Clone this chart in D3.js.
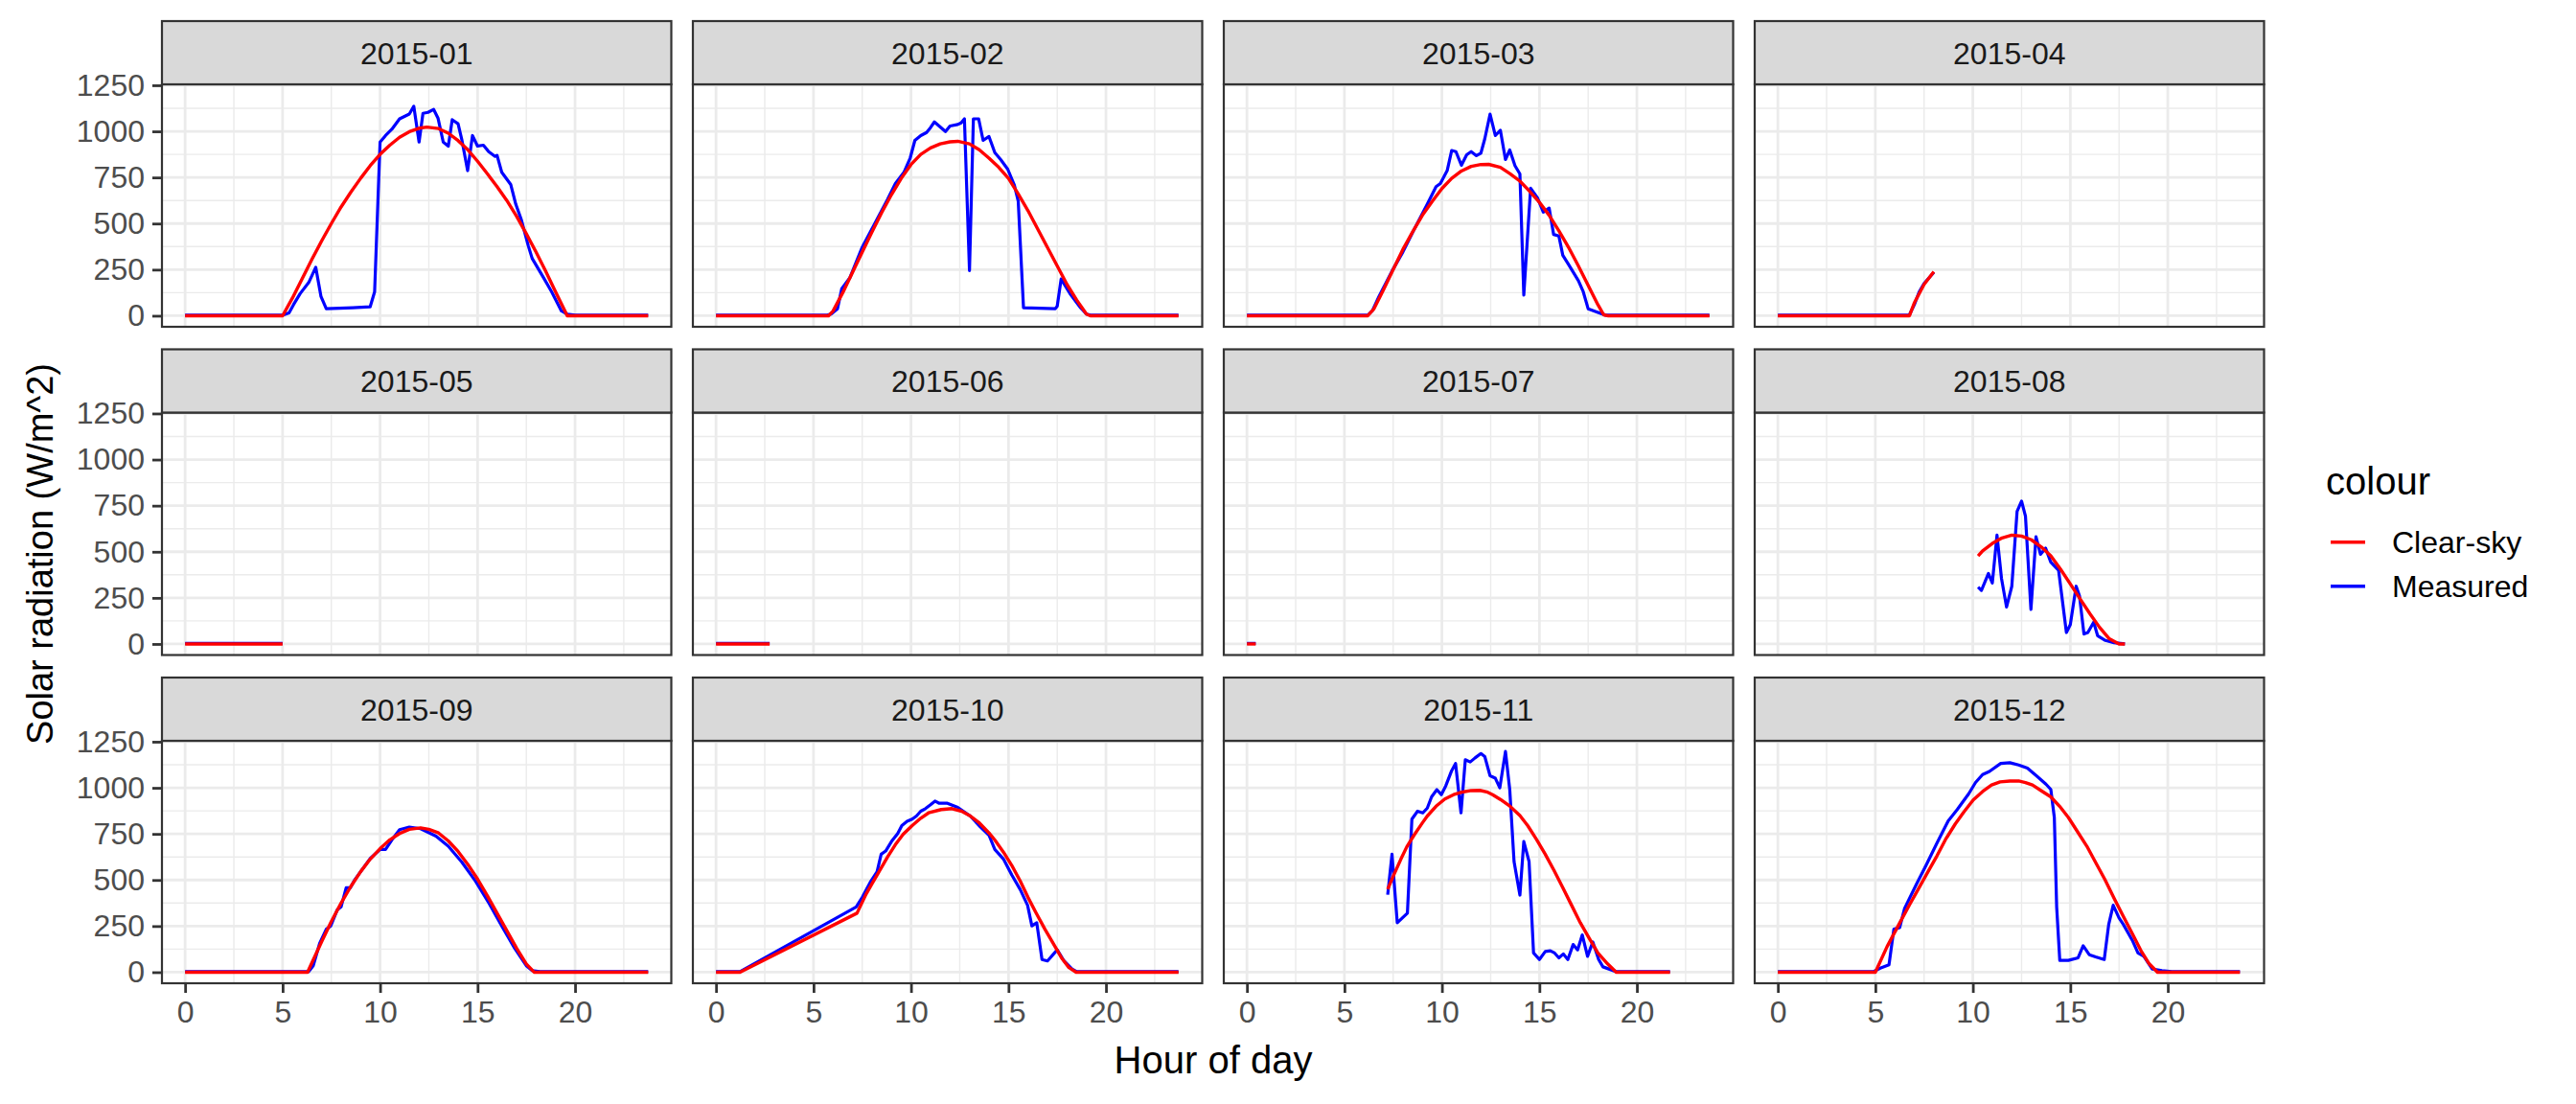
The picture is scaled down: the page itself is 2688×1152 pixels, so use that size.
<!DOCTYPE html>
<html>
<head>
<meta charset="utf-8">
<script src="https://cdn.jsdelivr.net/npm/d3@7"></script>
<style>
  body { margin: 0; background: #fff; }
  svg { display: block; font-family: "Liberation Sans", Arial, sans-serif; }
</style>
</head>
<body>
<svg id="chart" width="2688" height="1152"></svg>
<script>
// facet labels and axis breaks
const months = ["2015-01", "2015-02", "2015-03", "2015-04", "2015-05", "2015-06",
                "2015-07", "2015-08", "2015-09", "2015-10", "2015-11", "2015-12"];
const yBreaks = [0, 250, 500, 750, 1000, 1250];
const yMinor = [125, 375, 625, 875, 1125];
const xBreaks = [0, 5, 10, 15, 20];
const xMinor = [2.5, 7.5, 12.5, 17.5, 22.5];
const seriesNames = ["Clear-sky", "Measured"];

// [hour, W/m^2]
const jan_measured = [[0,3],[5.0,3],[5.33,15],[5.56,60],[5.9,120],[6.34,180],[6.7,263],[6.97,104],[7.24,38],[8.6,43],[9.49,48],[9.72,130],[10.0,942],[10.28,977],[10.6,1011],[11.0,1068],[11.5,1094],[11.73,1136],[12.0,942],[12.2,1098],[12.46,1103],[12.75,1119],[12.97,1072],[13.24,942],[13.5,920],[13.7,1063],[14.0,1041],[14.2,951],[14.49,787],[14.74,977],[15.0,920],[15.3,925],[15.57,890],[15.9,864],[16.0,870],[16.24,778],[16.7,712],[16.96,605],[17.25,519],[17.6,380],[17.8,311],[18.38,207],[18.8,130],[19.3,26],[19.6,9],[20,3],[23.75,3]];
const jan_clearsky = [[0,0],[5.0,0],[5.5,95],[6.0,200],[6.5,305],[7.0,405],[7.5,500],[8.0,590],[8.5,670],[9.0,745],[9.5,815],[10.0,875],[10.5,925],[11.0,968],[11.5,998],[12.0,1017],[12.4,1023],[13.0,1015],[13.5,990],[14.0,950],[14.5,900],[15.0,838],[15.5,770],[16.0,700],[16.5,625],[17.0,540],[17.5,445],[18.0,345],[18.5,240],[19.0,130],[19.6,0],[23.75,0]];

const feb_measured = [[0,3],[5.7,3],[5.9,9],[6.23,38],[6.45,147],[6.87,207],[7.5,372],[8.15,501],[8.8,631],[9.2,717],[9.64,778],[9.96,856],[10.2,951],[10.5,977],[10.8,994],[11.0,1020],[11.2,1051],[11.77,999],[12.0,1029],[12.4,1037],[12.57,1046],[12.74,1068],[13.0,245],[13.2,1068],[13.47,1068],[13.7,951],[14.0,972],[14.3,885],[14.6,847],[14.96,795],[15.3,709],[15.5,622],[15.77,43],[17.4,38],[17.5,52],[17.7,199],[18.15,121],[18.7,43],[19.0,9],[19.2,3],[23.72,3]];
const feb_clearsky = [[0,0],[5.77,0],[6.0,25],[6.5,125],[7.0,235],[7.5,345],[8.0,455],[8.5,560],[9.0,657],[9.5,745],[10.0,820],[10.5,875],[11.0,910],[11.5,932],[12.0,943],[12.4,946],[13.0,932],[13.5,900],[14.0,855],[14.5,805],[15.0,745],[15.5,660],[16.0,570],[16.5,470],[17.0,370],[17.5,270],[18.0,170],[18.5,85],[19.0,9],[19.2,0],[23.72,0]];

const mar_measured = [[0,3],[6.2,3],[6.43,26],[6.77,104],[7.44,242],[8.0,346],[8.57,467],[9.25,605],[9.7,700],[9.92,717],[10.27,787],[10.5,896],[10.72,890],[11.0,816],[11.27,873],[11.5,890],[11.77,868],[12.0,882],[12.2,960],[12.47,1093],[12.74,977],[13.0,1006],[13.26,847],[13.48,899],[13.75,813],[14.0,769],[14.2,112],[14.55,692],[14.9,640],[15.2,562],[15.5,584],[15.73,441],[16.0,432],[16.2,328],[16.5,277],[17.0,190],[17.25,130],[17.5,38],[17.9,22],[18.4,3],[23.72,3]];
const mar_clearsky = [[0,0],[6.2,0],[6.5,35],[7.0,140],[7.5,250],[8.0,360],[8.5,455],[9.0,545],[9.5,620],[10.0,690],[10.5,745],[11.0,785],[11.5,810],[12.0,820],[12.4,821],[13.0,805],[13.5,770],[14.0,730],[14.5,675],[15.0,615],[15.5,545],[16.0,460],[16.5,370],[17.0,270],[17.5,165],[18.0,60],[18.3,5],[18.5,0],[23.72,0]];

const apr_measured = [[0,3],[6.75,5],[7.0,60],[7.25,130],[7.5,175],[8.0,235]];
const apr_clearsky = [[0,0],[6.75,0],[7.0,70],[7.5,170],[8.0,239]];

const may_measured = [[0,3],[5.0,3]];
const may_clearsky = [[0,0],[5.0,0]];

const jun_measured = [[0,3],[2.75,3]];
const jun_clearsky = [[0,0],[2.75,0]];

const jul_measured = [[0,3],[0.45,3]];
const jul_clearsky = [[0,0],[0.45,0]];

const aug_measured = [[10.27,308],[10.44,290],[10.8,382],[11.0,330],[11.24,590],[11.47,356],[11.73,200],[12.0,313],[12.27,719],[12.5,775],[12.7,693],[12.98,187],[13.24,581],[13.47,486],[13.73,520],[14.0,443],[14.4,399],[14.8,62],[15.0,105],[15.3,313],[15.47,261],[15.7,54],[15.9,62],[16.2,118],[16.4,45],[16.8,19],[17.24,7],[17.8,0]];
const aug_clearsky = [[10.27,477],[10.5,505],[11.0,545],[11.5,575],[12.0,590],[12.5,585],[13.0,565],[13.5,527],[14.0,478],[14.5,405],[15.0,325],[15.5,245],[16.0,165],[16.5,90],[17.0,28],[17.5,0],[17.8,0]];

const sep_measured = [[0,3],[6.34,3],[6.57,35],[6.9,156],[7.24,233],[7.47,251],[7.8,337],[8.0,354],[8.26,458],[8.48,458],[8.7,501],[9.0,545],[9.5,617],[10.0,666],[10.28,666],[10.6,717],[11.0,773],[11.5,787],[12.08,778],[12.87,738],[13.5,683],[14.2,596],[14.9,493],[15.6,372],[16.24,251],[16.9,130],[17.5,35],[17.8,9],[18.2,3],[23.75,3]];
const sep_clearsky = [[0,0],[6.28,0],[6.5,50],[7.0,165],[7.5,275],[8.0,375],[8.5,465],[9.0,545],[9.5,614],[10.0,670],[10.5,718],[11.0,752],[11.5,775],[12.08,783],[12.5,775],[13.0,755],[13.5,712],[14.0,655],[14.5,585],[15.0,505],[15.5,415],[16.0,320],[16.5,225],[17.0,130],[17.5,45],[17.9,0],[23.75,0]];

const oct_measured = [[0,3],[1.23,3],[7.19,354],[7.5,406],[7.94,493],[8.26,545],[8.47,640],[8.7,657],[9.0,709],[9.32,752],[9.53,795],[9.8,818],[10.06,830],[10.28,847],[10.5,873],[10.74,887],[11.0,908],[11.23,928],[11.45,916],[11.87,916],[12.4,894],[13.04,847],[13.57,787],[14.0,743],[14.3,666],[14.74,614],[15.17,527],[15.6,449],[15.98,363],[16.2,251],[16.45,268],[16.72,69],[17.0,61],[17.5,121],[17.85,61],[18.26,17],[18.5,3],[23.72,3]];
const oct_clearsky = [[0,0],[1.23,0],[7.23,320],[7.7,424],[8.0,480],[8.36,545],[8.8,625],[9.2,692],[9.6,748],[10.06,795],[10.5,835],[10.9,864],[11.55,882],[12.1,887],[12.6,873],[13.0,850],[13.47,813],[14.0,755],[14.3,717],[14.75,650],[15.17,579],[15.6,495],[16.0,406],[16.4,325],[16.87,233],[17.3,155],[17.72,78],[18.1,25],[18.47,0],[23.72,0]];

const nov_measured = [[7.22,420],[7.44,640],[7.71,268],[8.23,320],[8.46,830],[8.75,873],[9.02,864],[9.25,890],[9.47,951],[9.74,990],[9.97,963],[10.2,1011],[10.5,1093],[10.7,1132],[10.98,864],[11.2,1152],[11.45,1140],[11.7,1162],[12.0,1186],[12.2,1169],[12.47,1065],[12.74,1052],[12.97,1000],[13.26,1197],[13.48,990],[13.7,600],[14.0,418],[14.2,709],[14.47,600],[14.7,104],[15.0,69],[15.3,112],[15.56,116],[15.78,104],[16.0,78],[16.23,99],[16.46,69],[16.73,150],[16.96,121],[17.2,202],[17.47,86],[17.74,164],[18.04,69],[18.26,29],[18.94,3],[21.7,3]];
const nov_clearsky = [[7.22,450],[7.5,520],[7.9,614],[8.2,680],[8.57,743],[9.0,810],[9.25,847],[9.7,900],[10.15,939],[10.6,963],[11.05,977],[11.5,985],[11.95,986],[12.3,978],[12.6,963],[13.0,937],[13.5,899],[14.0,850],[14.4,795],[14.85,720],[15.3,640],[15.75,552],[16.2,458],[16.65,363],[17.1,268],[17.55,185],[18.0,104],[18.5,45],[18.94,0],[21.7,0]];

const dec_measured = [[0,3],[4.9,3],[5.25,22],[5.7,40],[5.95,233],[6.25,242],[6.5,346],[7.1,475],[7.6,579],[8.16,700],[8.74,821],[9.2,882],[9.79,968],[10.14,1029],[10.5,1072],[10.85,1089],[11.43,1132],[11.9,1136],[12.35,1124],[12.8,1107],[13.29,1063],[13.75,1020],[14.0,991],[14.18,839],[14.3,354],[14.46,64],[14.9,64],[15.4,78],[15.66,143],[15.97,95],[16.3,83],[16.74,69],[16.97,259],[17.2,363],[17.5,294],[17.72,259],[18.18,173],[18.47,104],[18.77,86],[19.2,17],[19.7,9],[20.2,3],[23.7,3]];
const dec_clearsky = [[0,0],[5.0,0],[5.6,138],[6.3,277],[6.75,365],[7.2,450],[7.7,545],[8.16,631],[8.6,720],[9.1,804],[9.55,870],[10.02,934],[10.5,980],[10.96,1015],[11.4,1032],[11.9,1037],[12.35,1037],[12.7,1028],[13.06,1015],[13.5,985],[14.0,951],[14.45,900],[14.9,839],[15.35,765],[15.85,683],[16.3,595],[16.78,501],[17.25,400],[17.72,303],[18.2,205],[18.65,112],[19.05,45],[19.47,0],[23.7,0]];

const measuredByMonth = [jan_measured, feb_measured, mar_measured, apr_measured, may_measured, jun_measured,
                         jul_measured, aug_measured, sep_measured, oct_measured, nov_measured, dec_measured];
const clearskyByMonth = [jan_clearsky, feb_clearsky, mar_clearsky, apr_clearsky, may_clearsky, jun_clearsky,
                         jul_clearsky, aug_clearsky, sep_clearsky, oct_clearsky, nov_clearsky, dec_clearsky];

const facets = months.map((m, i) => ({
    month: m,
    row: Math.floor(i / 4),
    col: i % 4,
    measured: measuredByMonth[i],
    clearsky: clearskyByMonth[i]
}));

// layout (ggplot facet_wrap look)
const panelLeft = 169, panelW = 531.5, colStep = 554;
const stripTop = 22, stripH = 66, panelH = 253, rowStep = 342.5;
const colour = d3.scaleOrdinal().domain(seriesNames).range(["#FF0000", "#0000FF"]);

const svg = d3.select("#chart");

// shared scales, ranges are local to each panel
const x = d3.scaleLinear().domain([-1.1875, 24.9375]).range([0, panelW]);
const y = d3.scaleLinear().domain([-60, 1255]).range([panelH, 0]);
const line = d3.line().x(d => x(d[0])).y(d => y(d[1]));

facets.forEach(f => {
    const px = panelLeft + f.col * colStep;
    const sy = stripTop + f.row * rowStep;
    const g = svg.append("g").attr("transform", `translate(${px},${sy + stripH})`);

    g.append("rect").attr("width", panelW).attr("height", panelH).attr("fill", "#fff");

    // grid
    g.selectAll(".ymin").data(yMinor).join("line")
        .attr("x1", 0).attr("x2", panelW).attr("y1", d => y(d)).attr("y2", d => y(d))
        .attr("stroke", "#EBEBEB").attr("stroke-width", 1.4);
    g.selectAll(".xmin").data(xMinor).join("line")
        .attr("y1", 0).attr("y2", panelH).attr("x1", d => x(d)).attr("x2", d => x(d))
        .attr("stroke", "#EBEBEB").attr("stroke-width", 1.4);
    g.selectAll(".ymaj").data(yBreaks).join("line")
        .attr("x1", 0).attr("x2", panelW).attr("y1", d => y(d)).attr("y2", d => y(d))
        .attr("stroke", "#EBEBEB").attr("stroke-width", 2.8);
    g.selectAll(".xmaj").data(xBreaks).join("line")
        .attr("y1", 0).attr("y2", panelH).attr("x1", d => x(d)).attr("x2", d => x(d))
        .attr("stroke", "#EBEBEB").attr("stroke-width", 2.8);

    // measured first, clear-sky drawn over it
    g.append("path").datum(f.measured).attr("d", line)
        .attr("fill", "none").attr("stroke", colour("Measured")).attr("stroke-width", 3.2)
        .attr("stroke-linejoin", "round");
    g.append("path").datum(f.clearsky).attr("d", line)
        .attr("fill", "none").attr("stroke", colour("Clear-sky")).attr("stroke-width", 3.4)
        .attr("stroke-linejoin", "round");

    g.append("rect").attr("width", panelW).attr("height", panelH)
        .attr("fill", "none").attr("stroke", "#333333").attr("stroke-width", 2.2);

    // strip
    const s = svg.append("g").attr("transform", `translate(${px},${sy})`);
    s.append("rect").attr("width", panelW).attr("height", stripH)
        .attr("fill", "#D9D9D9").attr("stroke", "#333333").attr("stroke-width", 2.2);
    s.append("text").attr("x", panelW / 2).attr("y", stripH / 2 + 11.5)
        .attr("text-anchor", "middle").attr("font-size", 32).attr("fill", "#1A1A1A")
        .text(f.month);

    if (f.col === 0) {
        const ya = g.append("g")
            .call(d3.axisLeft(y).tickValues(yBreaks).tickFormat(d3.format("d")).tickSize(10).tickPadding(8));
        ya.select(".domain").remove();
        ya.selectAll(".tick line").attr("stroke", "#333333").attr("stroke-width", 2.8);
        ya.selectAll(".tick text").attr("font-size", 32).attr("fill", "#4D4D4D")
            .attr("font-family", "Liberation Sans, Arial, sans-serif");
    }
    if (f.row === 2) {
        const xa = g.append("g").attr("transform", `translate(0,${panelH})`)
            .call(d3.axisBottom(x).tickValues(xBreaks).tickFormat(d3.format("d")).tickSize(10).tickPadding(8));
        xa.select(".domain").remove();
        xa.selectAll(".tick line").attr("stroke", "#333333").attr("stroke-width", 2.8);
        xa.selectAll(".tick text").attr("font-size", 32).attr("fill", "#4D4D4D")
            .attr("font-family", "Liberation Sans, Arial, sans-serif");
    }
});

// axis titles
svg.append("text").attr("x", 1266).attr("y", 1120).attr("text-anchor", "middle")
    .attr("font-size", 40).attr("fill", "#000").text("Hour of day");
svg.append("text").attr("transform", "translate(55,578) rotate(-90)").attr("text-anchor", "middle")
    .attr("font-size", 38).attr("fill", "#000").text("Solar radiation (W/m^2)");

// legend
const legend = svg.append("g").attr("transform", "translate(2427,0)");
legend.append("text").attr("x", 0).attr("y", 516).attr("font-size", 40).attr("fill", "#000").text("colour");
seriesNames.forEach((name, i) => {
    const cy = 565.7 + i * 46;
    legend.append("line").attr("x1", 5).attr("x2", 41).attr("y1", cy).attr("y2", cy)
        .attr("stroke", colour(name)).attr("stroke-width", 3.4);
    legend.append("text").attr("x", 69).attr("y", cy + 11.5).attr("font-size", 32)
        .attr("fill", "#000").text(name);
});
</script>
</body>
</html>
